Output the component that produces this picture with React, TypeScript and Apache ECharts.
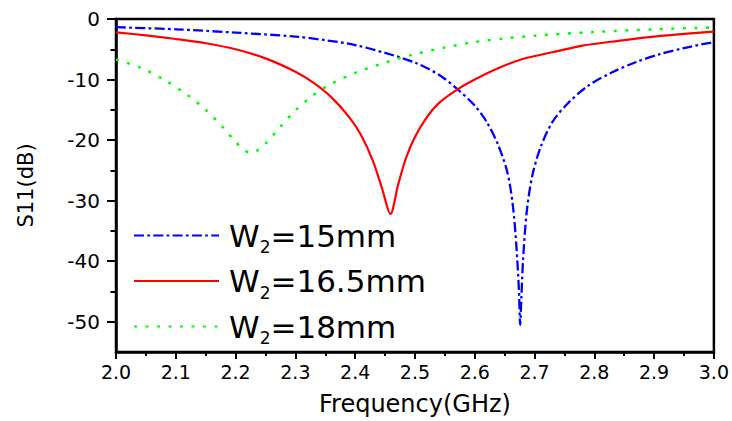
import React, { useEffect, useRef } from "react";
import * as echarts from "echarts";

const seriesNames = ["W2=15mm", "W2=16.5mm", "W2=18mm"];

const freq15 = [2.0, 2.1, 2.2, 2.3, 2.35, 2.4, 2.45, 2.5, 2.54, 2.57, 2.6, 2.62, 2.64, 2.655, 2.664, 2.67, 2.674, 2.676, 2.678, 2.681, 2.687, 2.696, 2.71, 2.73, 2.755, 2.79, 2.83, 2.87, 2.91, 2.95, 3.0];
const s15 = [-1.35, -1.7, -2.25, -2.9, -3.5, -4.3, -5.6, -7.2, -9.2, -11.5, -14.3, -17.0, -21.0, -25.5, -31.0, -38.0, -45.0, -50.5, -46.0, -39.5, -31.8, -26.0, -21.2, -17.0, -14.0, -11.0, -8.8, -7.1, -5.8, -4.8, -3.8];

const freq165 = [2.0, 2.05, 2.1, 2.15, 2.2, 2.25, 2.3, 2.33, 2.36, 2.39, 2.41, 2.43, 2.445, 2.459, 2.472, 2.485, 2.5, 2.52, 2.54, 2.57, 2.6, 2.64, 2.68, 2.73, 2.78, 2.84, 2.9, 2.95, 3.0];
const s165 = [-2.2, -2.7, -3.3, -4.0, -5.0, -6.5, -8.7, -10.5, -12.9, -16.2, -19.2, -23.5, -28.0, -32.2, -27.3, -23.0, -19.5, -16.2, -13.9, -11.7, -10.0, -8.1, -6.6, -5.5, -4.4, -3.6, -2.9, -2.45, -2.1];

const freq18 = [2.0, 2.04, 2.08, 2.12, 2.15, 2.18, 2.2, 2.215, 2.225, 2.235, 2.25, 2.275, 2.3, 2.33, 2.36, 2.4, 2.45, 2.5, 2.55, 2.6, 2.65, 2.7, 2.8, 2.9, 3.0];
const s18 = [-6.7, -8.0, -10.0, -12.6, -15.0, -18.0, -20.3, -21.7, -22.1, -21.8, -20.6, -17.8, -15.1, -12.6, -10.7, -8.9, -7.2, -5.8, -4.7, -3.8, -3.2, -2.75, -2.15, -1.7, -1.4];

const yMajor = [0, -10, -20, -30, -40, -50];
const yMinor = [-5, -15, -25, -35, -45];

const FONT = "DejaVu Sans";

function pairs(xs: number[], ys: number[]) {
  return xs.map((x, i) => [x, ys[i]]);
}

export default function App() {
  const ref = useRef<HTMLDivElement>(null);
  useEffect(() => {
    document.body.style.margin = "0";
    if (!ref.current) return;
    const chart = echarts.init(ref.current, null, { renderer: "svg" });
    const black = "#000";
    chart.setOption({
      animation: false,
      backgroundColor: "#fff",
      grid: {
        left: 116,
        right: 18,
        top: 19,
        bottom: 65,
        show: true,
        borderColor: black,
        borderWidth: 2.5,
        backgroundColor: "transparent",
      },
      legend: {
        orient: "vertical",
        left: 133,
        top: 220,
        padding: 0,
        itemGap: 10,
        itemWidth: 85,
        itemHeight: 14,
        data: seriesNames,
        itemStyle: { opacity: 0 },
        formatter: (name: string) => `{w|W}{s|2}{a|${name.slice(2)}}`,
        textStyle: {
          fontFamily: FONT,
          color: black,
          rich: {
            w: { fontSize: 31, lineHeight: 40, fontFamily: FONT, color: black, verticalAlign: "middle", padding: [0, 0, 0, 5] },
            a: { fontSize: 31, lineHeight: 40, fontFamily: FONT, color: black, verticalAlign: "middle" },
            s: { fontSize: 17, lineHeight: 10, fontFamily: FONT, color: black, verticalAlign: "bottom" },
          },
        },
      },
      xAxis: {
        type: "value",
        min: 2,
        max: 3,
        interval: 0.1,
        name: "Frequency(GHz)",
        nameLocation: "middle",
        nameGap: 40,
        nameTextStyle: { fontFamily: FONT, fontSize: 24, color: black },
        axisLine: { show: true, onZero: false, lineStyle: { color: black, width: 2.5 } },
        axisTick: { show: true, length: 7, lineStyle: { color: black, width: 2 } },
        minorTick: { show: true, splitNumber: 2, length: 4, lineStyle: { color: black, width: 2 } },
        axisLabel: {
          fontFamily: FONT,
          fontSize: 19,
          color: black,
          margin: 10,
          formatter: (v: number) => v.toFixed(1),
        },
        splitLine: { show: false },
      },
      yAxis: [
        {
          type: "value",
          min: -55,
          max: 0,
          interval: 5,
          position: "left",
          name: "S11(dB)",
          nameLocation: "middle",
          nameGap: 80,
          nameRotate: 90,
          nameTextStyle: { fontFamily: FONT, fontSize: 21, color: black },
          axisLine: { show: true, onZero: false, lineStyle: { color: black, width: 2.5 } },
          axisTick: { show: true, length: 9, customValues: yMajor, lineStyle: { color: black, width: 2 } },
          axisLabel: {
            fontFamily: FONT,
            fontSize: 20,
            color: black,
            margin: 16,
            customValues: yMajor,
            formatter: (v: number) => (v % 10 === 0 ? String(v) : ""),
          },
          splitLine: { show: false },
        },
        {
          type: "value",
          min: -55,
          max: 0,
          interval: 5,
          position: "left",
          axisLine: { show: false },
          axisTick: { show: true, length: 5.5, customValues: yMinor, lineStyle: { color: black, width: 2 } },
          axisLabel: { show: false },
          splitLine: { show: false },
        },
      ],
      series: [
        {
          name: seriesNames[0],
          type: "line",
          data: pairs(freq15, s15),
          symbol: "none",
          smooth: 0.3,
          lineStyle: { color: "#0000FF", width: 2.3, type: [10, 3.3, 2.7, 3.3] },
          itemStyle: { color: "#0000FF" },
        },
        {
          name: seriesNames[1],
          type: "line",
          data: pairs(freq165, s165),
          symbol: "none",
          smooth: 0.3,
          lineStyle: { color: "#FF0000", width: 2.2, type: "solid" },
          itemStyle: { color: "#FF0000" },
        },
        {
          name: seriesNames[2],
          type: "line",
          data: pairs(freq18, s18),
          symbol: "none",
          smooth: 0.3,
          lineStyle: { color: "#00FF00", width: 2.5, type: [3, 8.5] },
          itemStyle: { color: "#00FF00" },
        },
      ],
    });
    return () => chart.dispose();
  }, []);
  return <div ref={ref} style={{ width: 732, height: 421 }} />;
}
